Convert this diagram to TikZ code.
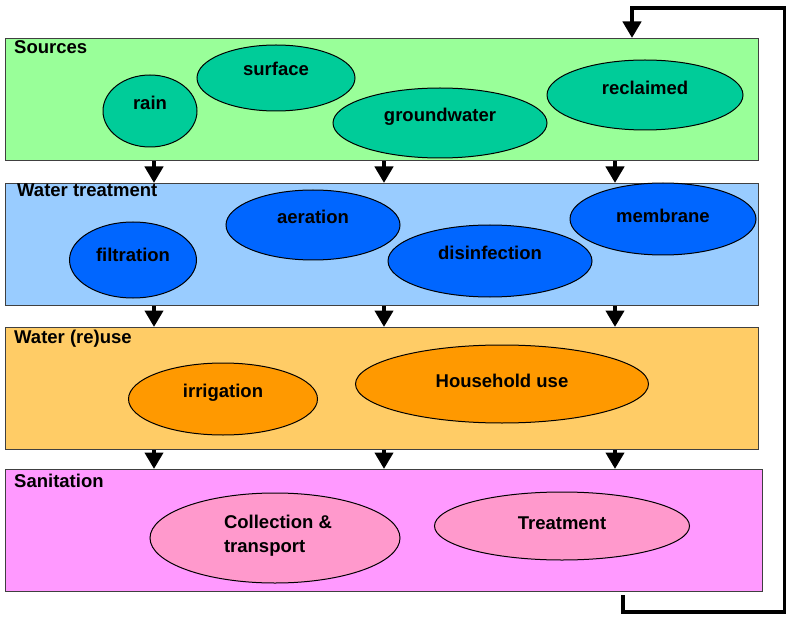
\documentclass[tikz,border=0pt]{standalone}
\usepackage{fontspec}
\setmainfont{Liberation Sans}
\usetikzlibrary{shapes.geometric,arrows.meta}

\definecolor{srcbg}{HTML}{99FF99}
\definecolor{srcfill}{HTML}{00CC99}
\definecolor{trtbg}{HTML}{99CCFF}
\definecolor{trtfill}{HTML}{0066FF}
\definecolor{usebg}{HTML}{FFCC66}
\definecolor{usefill}{HTML}{FF9900}
\definecolor{sanbg}{HTML}{FF99FF}
\definecolor{sanfill}{HTML}{FF99CC}

\begin{document}
\begin{tikzpicture}[x=1pt, y=-1pt, font=\fontsize{18.5}{24}\selectfont\bfseries,
		layer/.style={draw=black!75, line width=1.2, anchor=north west, inner sep=0,
			minimum width=753, minimum height=122},
		title/.style={anchor=base west, inner sep=0},
		blob/.style={ellipse, draw, line width=1, inner sep=0},
		word/.style={inner sep=0, text height=13, text depth=0},
		flow/.style={line width=4.5, -{Triangle[width=18,length=16.5]}}]
	\useasboundingbox (0,0) rectangle (786,617);

	% layers
	\node[layer, fill=srcbg] (src) at (5,38) {};
	\node[layer, fill=trtbg] (trt) at (5,183) {};
	\node[layer, fill=usebg] (use) at (5,327) {};
	\node[layer, fill=sanbg, minimum width=757] (san) at (5,469) {};

	\node[title] (src-t) at (14,54) {Sources};
	\node[title] (trt-t) at (17,197) {Water treatment};
	\node[title] (use-t) at (14,343) {Water (re)use};
	\node[title] (san-t) at (14,487) {Sanitation};

	% sources
	\node[blob, fill=srcfill, minimum width=94, minimum height=72] (rain) at (150,111) {};
	\node[blob, fill=srcfill, minimum width=158, minimum height=66] (surface) at (276,78) {};
	\node[blob, fill=srcfill, minimum width=214, minimum height=70] (ground) at (440,123) {};
	\node[blob, fill=srcfill, minimum width=196, minimum height=70] (reclaim) at (645,95) {};
	\node[word] (rain-t) at (150,103) {rain};
	\node[word] (surface-t) at (276,69) {surface};
	\node[word] (ground-t) at (440,115) {groundwater};
	\node[word] (reclaim-t) at (645,88) {reclaimed};

	% treatment
	\node[blob, fill=trtfill, minimum width=127, minimum height=76] (filt) at (133,260) {};
	\node[blob, fill=trtfill, minimum width=174, minimum height=70] (aer) at (313,225) {};
	\node[blob, fill=trtfill, minimum width=204, minimum height=72] (disinf) at (490,261) {};
	\node[blob, fill=trtfill, minimum width=186, minimum height=72] (memb) at (663,219) {};
	\node[word] (filt-t) at (133,255) {filtration};
	\node[word] (aer-t) at (313,217) {aeration};
	\node[word] (disinf-t) at (490,253) {disinfection};
	\node[word] (memb-t) at (663,216) {membrane};

	% (re)use
	\node[blob, fill=usefill, minimum width=189, minimum height=72] (irr) at (223,399) {};
	\node[blob, fill=usefill, minimum width=293, minimum height=78] (house) at (502,384) {};
	\node[word] (irr-t) at (223,391) {irrigation};
	\node[word] (house-t) at (502,381) {Household use};

	% sanitation
	\node[blob, fill=sanfill, minimum width=250, minimum height=90] (coll) at (275,538) {};
	\node[blob, fill=sanfill, minimum width=255, minimum height=68] (treat) at (562,526) {};
	\node[inner sep=0, align=left] (coll-t) at (278,536) {Collection \&\\transport};
	\node[word] (treat-t) at (562,523) {Treatment};

	% arrows between layers
	\foreach \dx in {149,379,610} {
		\draw[flow] ([xshift=\dx]src.south west) -- ([xshift=\dx]trt.north west);
		\draw[flow] ([xshift=\dx]trt.south west) -- ([xshift=\dx]use.north west);
		\draw[flow] ([xshift=\dx]use.south west) -- ([xshift=\dx]san.north west);
	}

	% feedback loop
	\coordinate (loop-b) at (785.5,612);
	\coordinate (loop-t) at (632,8);
	\draw[flow] ([xshift=618,yshift=-3]san.south west) |- (loop-b) |- (loop-t)
		-- ([xshift=627]src.north west);
\end{tikzpicture}
\end{document}
